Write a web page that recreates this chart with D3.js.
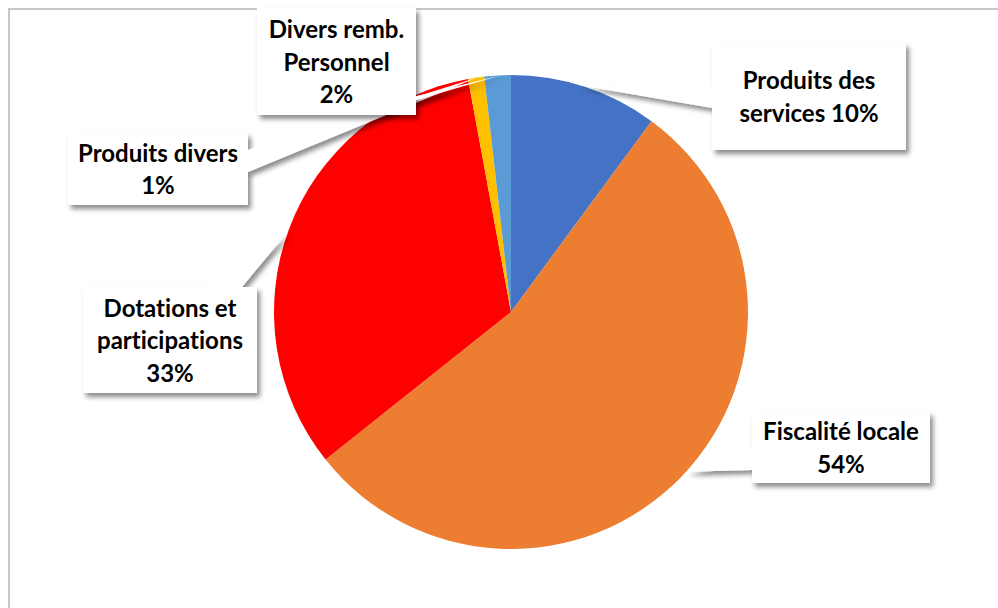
<!DOCTYPE html>
<html>
<head>
<meta charset="utf-8">
<script src="https://cdn.jsdelivr.net/npm/d3@7"></script>
<style>
  body { margin: 0; background: #fff; }
  svg { display: block; }
  .lbl { font-family: Lato, "Open Sans", sans-serif; font-weight: 700; font-size: 24px; fill: #000;
         font-variant-ligatures: none; font-feature-settings: "liga" 0; }
</style>
</head>
<body>
<div id="chart"></div>
<script>
// slices, clockwise from 12 o'clock
var categories = ["Produits des services", "Fiscalité locale", "Dotations et participations", "Produits divers", "Divers remb. Personnel"];
var values = [10.1, 54.2, 32.8, 1.1, 1.8];
var labelTemplates = ["Produits des\nservices {p}", "Fiscalité locale\n{p}", "Dotations et\nparticipations\n{p}", "Produits divers\n{p}", "Divers remb.\nPersonnel\n{p}"];
var colors = ["#4472C4", "#ED7D31", "#FF0000", "#FFC000", "#5B9BD5"];

var w = 998, h = 608;
var cx = 511, cy = 312, r = 237;

// callout boxes (layout) : box rect, pointer base on box edge, pointer angle on the rim
var callouts = [
	{box: [712, 43, 194, 107], base: [[712, 86], [712, 108]], ang: 0.29},
	{box: [752, 412, 178, 71], base: [[752, 448], [752, 470]], ang: 2.31},
	{box: [83, 287, 174, 106], base: [[212, 287], [242, 287]], ang: 5.06},
	{box: [68, 133, 180, 72], base: [[248, 150], [248, 172]], ang: 6.14},
	{box: [257, 8, 159, 107], base: [[340, 115], [416, 100]], ang: 6.24}
];

var svg = d3.select("#chart").append("svg")
	.attr("width", w)
	.attr("height", h);

var defs = svg.append("defs");
var f = defs.append("filter").attr("id", "shadow")
	.attr("x", "-20%").attr("y", "-20%").attr("width", "150%").attr("height", "150%");
f.append("feDropShadow")
	.attr("dx", 3).attr("dy", 4).attr("stdDeviation", 2.5)
	.attr("flood-color", "#000").attr("flood-opacity", 0.45);

// outer frame
svg.append("rect")
	.attr("x", 9).attr("y", 9)
	.attr("width", w + 10).attr("height", h + 10)
	.attr("fill", "none")
	.attr("stroke", "#c8c8c8")
	.attr("stroke-width", 2);

var total = d3.sum(values);
var pie = d3.pie().sort(null).value(function(d) { return d; });
var arcs = pie(values);
var arc = d3.arc().innerRadius(0).outerRadius(r);

var chart = svg.append("g").attr("transform", "translate(" + cx + "," + cy + ")");

chart.selectAll(".slice")
	.data(arcs).enter()
	.append("path")
	.attr("class", "slice")
	.attr("d", arc)
	.attr("fill", function(d, i) { return colors[i]; });

// callouts
var lab = svg.append("g");
arcs.forEach(function(d, i) {
	var c = callouts[i];
	var a = c.ang;
	var tx = cx + Math.sin(a) * r;
	var ty = cy - Math.cos(a) * r;
	var g = lab.append("g").attr("filter", "url(#shadow)");
	g.append("path")
		.attr("d", "M" + c.base[0][0] + "," + c.base[0][1] + "L" + tx + "," + ty + "L" + c.base[1][0] + "," + c.base[1][1] + "Z")
		.attr("fill", "#fff");
	g.append("rect")
		.attr("x", c.box[0]).attr("y", c.box[1])
		.attr("width", c.box[2]).attr("height", c.box[3])
		.attr("fill", "#fff");
});

arcs.forEach(function(d, i) {
	var c = callouts[i];
	var pct = Math.round(values[i] / total * 100) + "%";
	var lines = labelTemplates[i].replace("{p}", pct).split("\n");
	var lh = 32.5;
	var bx = c.box[0] + c.box[2] / 2;
	var by = c.box[1] + c.box[3] / 2 - (lines.length - 1) * lh / 2 + 9;
	var t = lab.append("text").attr("class", "lbl").attr("text-anchor", "middle");
	lines.forEach(function(s, j) {
		t.append("tspan").attr("x", bx).attr("y", by + j * lh).text(s);
	});
});
</script>
</body>
</html>
